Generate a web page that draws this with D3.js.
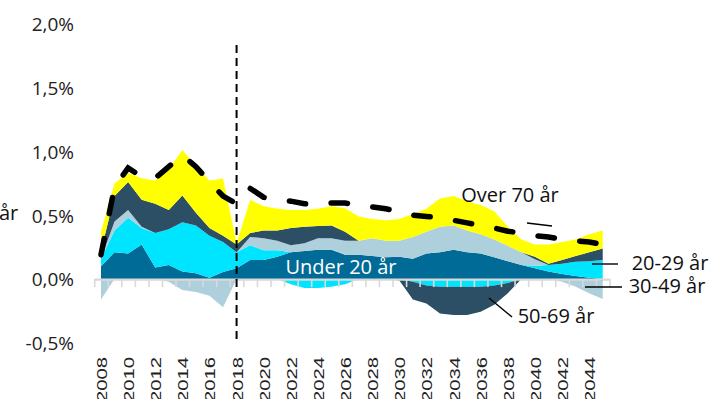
<!DOCTYPE html>
<html>
<head>
<meta charset="utf-8">
<script src="https://cdn.jsdelivr.net/npm/d3@7"></script>
<style>
  html, body { margin: 0; padding: 0; background: #fff; overflow: hidden; }
  svg text { font-family: "Open Sans", "DejaVu Sans", sans-serif; }
</style>
</head>
<body>
<svg id="chart" width="712" height="399"></svg>
<script>
// Årlig befolkningsvekst fordelt på aldersgrupper (prosent), 2008–2045
const years = [2008, 2009, 2010, 2011, 2012, 2013, 2014, 2015, 2016, 2017,
               2018, 2019, 2020, 2021, 2022, 2023, 2024, 2025, 2026, 2027,
               2028, 2029, 2030, 2031, 2032, 2033, 2034, 2035, 2036, 2037,
               2038, 2039, 2040, 2041, 2042, 2043, 2044, 2045];

const under20 = [0.10, 0.21, 0.20, 0.27, 0.09, 0.11, 0.06, 0.045, 0.01, 0.055,
                 0.085, 0.15, 0.15, 0.175, 0.21, 0.22, 0.23, 0.23, 0.19, 0.19,
                 0.18, 0.17, 0.175, 0.16, 0.20, 0.21, 0.23, 0.21, 0.20, 0.17,
                 0.14, 0.11, 0.085, 0.06, 0.04, 0.025, 0.01, -0.015];

const age20to29 = [0.06, 0.17, 0.28, 0.13, 0.27, 0.28, 0.385, 0.375, 0.33, 0.235,
                   0.125, 0.115, 0.075, 0.05, -0.04, -0.07, -0.07, -0.06, -0.04, 0,
                   0, 0, 0, -0.02, -0.05, -0.06, -0.06, -0.06, -0.06, -0.05,
                   -0.03, 0, 0.02, 0.05, 0.08, 0.11, 0.13, 0.15];

const age30to49 = [-0.16, 0.07, 0.06, 0.01, 0, -0.02, -0.085, -0.10, -0.13, -0.22,
                   0, 0.065, 0.095, 0.075, 0.055, 0.06, 0.09, 0.09, 0.11, 0.11,
                   0.14, 0.13, 0.125, 0.17, 0.17, 0.20, 0.19, 0.17, 0.15, 0.14,
                   0.12, 0.10, 0.05, 0, -0.02, -0.06, -0.11, -0.14];

const age50to69 = [0.06, 0.20, 0.22, 0.21, 0.23, 0.15, 0.21, 0.10, 0.06, 0.05,
                   0.06, 0.03, 0.06, 0.08, 0.135, 0.13, 0.095, 0.10, 0.07, 0,
                   0, 0, -0.01, -0.14, -0.14, -0.21, -0.22, -0.22, -0.195, -0.15,
                   -0.08, 0, 0.02, 0.01, 0.03, 0.045, 0.07, 0.09];

const over70 = [0.15, 0.10, 0.07, 0.17, 0.18, 0.32, 0.355, 0.37, 0.37, 0.45,
                0.01, 0.26, 0.19, 0.17, 0.14, 0.13, 0.135, 0.15, 0.185, 0.19,
                0.15, 0.16, 0.17, 0.18, 0.18, 0.22, 0.23, 0.23, 0.23, 0.22,
                0.15, 0.10, 0.095, 0.15, 0.14, 0.13, 0.14, 0.14];

// Samlet vekst (stiplet linje)
const totalGrowth = [0.19, 0.72, 0.87, 0.80, 0.79, 0.88, 0.97, 0.88, 0.76, 0.65,
                     0.59, 0.71, 0.64, 0.62, 0.61, 0.59, 0.585, 0.595, 0.595, 0.58,
                     0.565, 0.55, 0.53, 0.50, 0.49, 0.48, 0.46, 0.44, 0.42, 0.40,
                     0.375, 0.36, 0.34, 0.33, 0.31, 0.30, 0.29, 0.27];

const seriesKeys = ["Under 20 år", "20-29 år", "30-49 år", "50-69 år", "Over 70 år"];
const seriesValues = [under20, age20to29, age30to49, age50to69, over70];
const seriesColors = ["#006b97", "#00e5ff", "#aecfdc", "#2c4f66", "#ffff00"];

const yTicks = [-0.5, 0, 0.5, 1.0, 1.5, 2.0];
const xLabelYears = [2008, 2010, 2012, 2014, 2016, 2018, 2020, 2022, 2024, 2026,
                     2028, 2030, 2032, 2034, 2036, 2038, 2040, 2042, 2044];
const forecastStart = 2018;

// Tabell: én rad per år
const rows = years.map((yr, i) => {
  const r = { year: yr, total: totalGrowth[i] };
  seriesKeys.forEach((k, s) => { r[k] = seriesValues[s][i]; });
  return r;
});

const svg = d3.select("#chart");

const x = d3.scaleLinear().domain([2007.5, 2045.5]).range([94.2, 609.5]);
const y = d3.scaleLinear().domain([-0.5, 2.0]).range([343, 23.5]);

// Positive og negative bidrag stables hver for seg
const posStack = d3.stack().keys(seriesKeys)
  .value((d, k) => Math.max(d[k], 0))(rows);
const negStack = d3.stack().keys(seriesKeys)
  .value((d, k) => Math.min(d[k], 0))(rows);

const area = d3.area()
  .x(d => x(d.data.year))
  .y0(d => y(d[0]))
  .y1(d => y(d[1]));

const areas = svg.append("g");
[posStack, negStack].forEach(stack => {
  areas.selectAll(null)
    .data(stack)
    .enter().append("path")
    .attr("d", area)
    .attr("fill", (d, i) => seriesColors[i])
    .attr("stroke", "none");
});

// Y-akse
const fmt = v => d3.format(".1f")(v).replace("−", "-").replace(".", ",") + "%";
const yAxis = svg.append("g")
  .attr("transform", "translate(74,0)")
  .call(d3.axisLeft(y).tickValues(yTicks).tickSize(0).tickPadding(0).tickFormat(fmt));
yAxis.select(".domain").remove();
yAxis.selectAll("text")
  .attr("font-size", 19)
  .attr("fill", "#222")
  .attr("dy", "0.36em")
  .style("font-family", "'Open Sans', sans-serif");

// X-akse: linje og årsstreker
const edges = years.map(yr => yr - 0.5).concat([years[years.length - 1] + 0.5]);
const xAxis = svg.append("g")
  .attr("transform", `translate(0,${y(0)})`)
  .call(d3.axisBottom(x).tickValues(edges).tickSizeInner(8).tickSizeOuter(0).tickFormat(""));
xAxis.select(".domain").attr("stroke", "#d9d9d9").attr("stroke-width", 2.2);
xAxis.selectAll(".tick line").attr("stroke", "#d9d9d9").attr("stroke-width", 1.6);

// Årstall, rotert
const xLabels = svg.append("g")
  .attr("transform", "translate(0,357)")
  .call(d3.axisBottom(x).tickValues(xLabelYears).tickSize(0).tickFormat(d3.format("d")));
xLabels.select(".domain").remove();
xLabels.selectAll("text")
  .attr("text-anchor", "end")
  .attr("x", 0).attr("y", 0).attr("dy", 0)
  .attr("transform", "rotate(-90) scale(1.35,1) translate(0,5.5)")
  .attr("font-size", 15)
  .attr("fill", "#222")
  .style("font-family", "'Liberation Sans', Arial, sans-serif");

// Skille mellom historikk og framskriving
svg.append("line")
  .attr("x1", x(forecastStart)).attr("x2", x(forecastStart))
  .attr("y1", 45).attr("y2", 344)
  .attr("stroke", "#000").attr("stroke-width", 2)
  .attr("stroke-dasharray", "8,5");

// Samlet vekst
svg.append("path")
  .datum(rows)
  .attr("d", d3.line().x(d => x(d.year)).y(d => y(d.total)))
  .attr("fill", "none")
  .attr("stroke", "#000")
  .attr("stroke-width", 5.5)
  .attr("stroke-linecap", "round")
  .attr("stroke-dasharray", "16.5,25.5");

// Serieetiketter
const labels = [
  { text: "Over 70 år", x: 510, y: 202, anchor: "middle", color: "#111" },
  { text: "Under 20 år", x: 341, y: 274, anchor: "middle", color: "#fff" },
  { text: "50-69 år", x: 556, y: 323, anchor: "middle", color: "#111" },
  { text: "20-29 år", x: 670, y: 270, anchor: "middle", color: "#111" },
  { text: "30-49 år", x: 667, y: 293, anchor: "middle", color: "#111" },
  { text: "år", x: -1, y: 220, anchor: "start", color: "#111" }
];
svg.append("g").selectAll("text")
  .data(labels).enter().append("text")
  .attr("x", d => d.x).attr("y", d => d.y)
  .attr("text-anchor", d => d.anchor)
  .attr("fill", d => d.color)
  .attr("font-size", 20)
  .text(d => d.text);

const leaders = [
  [[527, 223], [552, 226]],
  [[489, 298], [512, 317]],
  [[592, 264], [618, 264]],
  [[585, 287], [622, 287]]
];
svg.append("g").selectAll("path")
  .data(leaders).enter().append("path")
  .attr("d", d => d3.line()(d))
  .attr("stroke", "#000").attr("stroke-width", 1.4).attr("fill", "none");
</script>
</body>
</html>
